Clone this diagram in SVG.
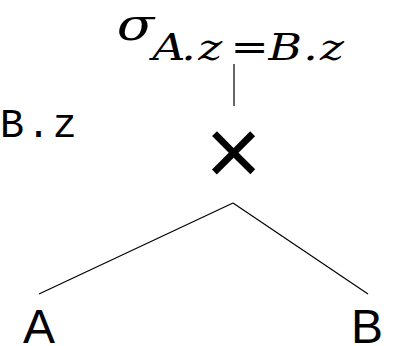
<svg xmlns="http://www.w3.org/2000/svg" width="393" height="346" viewBox="0 0 393 346">
<style>
.math{font-family:"DejaVu Serif","Liberation Serif",serif;font-style:italic;fill:#000}
.mono{font-family:"Liberation Mono","DejaVu Sans Mono",monospace;fill:#000}
.lbl{font-family:"Liberation Sans",Arial,sans-serif;fill:#000}
.edge{stroke:#000;stroke-width:1.2;fill:none}
</style>
<rect width="393" height="346" fill="#fff"/>
<g id="connectors">
<line class="edge" x1="234" y1="64" x2="234" y2="106"/>
<line class="edge" x1="233" y1="203" x2="39" y2="294"/>
<line class="edge" x1="233" y1="203" x2="368" y2="294"/>
</g>
<g id="node-select">
<text class="math" transform="scale(1.25 1)" x="93.5" y="39.5" font-size="44">σ</text>
<text class="math" transform="scale(1.2 1)" font-size="38" y="60" x="127 151 165.2 192 223.8 252.8 266.7">A.z=B.z</text>
</g>
<g id="node-side-label">
<text class="mono" x="0" y="137" font-size="40" letter-spacing="2.4">B.z</text>
</g>
<g id="node-cross">
<text class="lbl" x="233.5" y="185" font-size="97" text-anchor="middle">×</text>
</g>
<g id="node-A">
<text class="lbl" x="23" y="343" font-size="48">A</text>
</g>
<g id="node-B">
<text class="lbl" x="351" y="343" font-size="48">B</text>
</g>
</svg>
